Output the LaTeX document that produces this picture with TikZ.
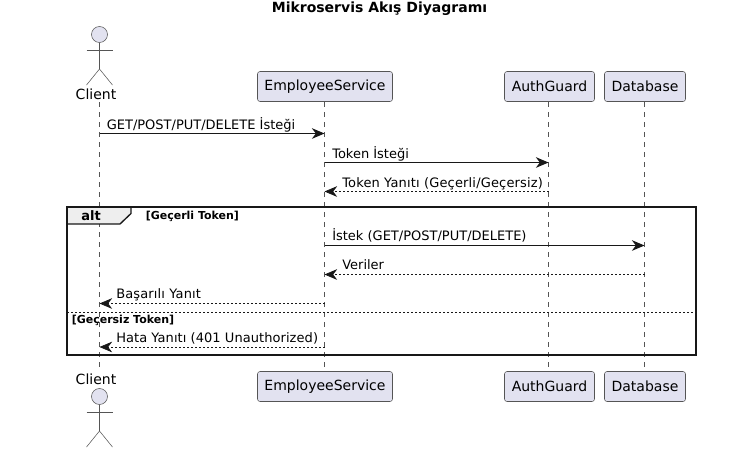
\documentclass[tikz,border=0pt]{standalone}
\usepackage{fontspec}
\setmainfont{DejaVu Sans}
\usetikzlibrary{arrows.meta}
\definecolor{partfill}{HTML}{E2E2F0}
\definecolor{partline}{HTML}{181818}
\definecolor{thinline}{HTML}{555555}
\definecolor{tabfill}{HTML}{EEEEEE}
\begin{document}
\begin{tikzpicture}[x=0.75pt,y=-0.75pt,
    part/.style = {draw=thinline, fill=partfill, line width=0.4pt, rounded corners=1.9pt, minimum height=22.5pt, inner xsep=0pt, font=\fontsize{10.5}{12}\selectfont},
    head/.style = {draw=thinline, fill=partfill, line width=0.4pt, circle, minimum size=12pt, inner sep=0pt},
    limb/.style = {draw=thinline, line width=0.4pt},
    life/.style = {draw=thinline, line width=0.4pt, dash pattern=on 3.75pt off 3.75pt},
    msg/.style = {draw=partline, line width=0.75pt, -{Stealth[length=9.5pt,width=8pt,inset=3pt]}},
    reply/.style = {msg, line width=0.5pt, dash pattern=on 1.5pt off 1.5pt},
    msgtext/.style = {anchor=base west, inner sep=0pt, font=\fontsize{9.75}{12}\selectfont},
    widetext/.style = {msgtext, font=\fontsize{9.75}{12}\selectfont\addfontfeature{LetterSpace=#1}},
    guard/.style = {anchor=base west, inner sep=0pt, font=\fontsize{8.25}{10}\selectfont\bfseries}]
    \useasboundingbox (0,0) rectangle (742,455);

    \node[anchor=base, inner sep=0pt, font=\fontsize{10.5}{12}\selectfont\bfseries] (title) at (379.5,12) {Mikroservis Akış Diyagramı};

    % top row
    \node[head] (clienthead) at (99.5,34.5) {};
    \coordinate (clientneck) at (99.5,69);
    \coordinate (clientarml) at (86.5,50.5);
    \coordinate (clientarmr) at (112.5,50.5);
    \coordinate (clientlegl) at (86.5,85);
    \coordinate (clientlegr) at (112.5,85);
    \node[anchor=base, inner sep=0pt, font=\fontsize{10.5}{12}\selectfont] (clienttop) at (96,99) {Client};
    \node[part, minimum width=101.25pt] (servicetop) at (325,86.5) {EmployeeService};
    \node[part, minimum width=67.5pt] (guardtop) at (549.5,86.5) {AuthGuard};
    \node[part, minimum width=60.75pt] (dbtop) at (645,86.5) {Database};

    % bottom row
    \node[anchor=base, inner sep=0pt, font=\fontsize{10.5}{12}\selectfont] (clientbot) at (96,384) {Client};
    \node[head] (clientheadb) at (99.5,396.5) {};
    \coordinate (clientneckb) at (99.5,431);
    \coordinate (clientarmlb) at (86.5,412.5);
    \coordinate (clientarmrb) at (112.5,412.5);
    \coordinate (clientleglb) at (86.5,447);
    \coordinate (clientlegrb) at (112.5,447);
    \node[part, minimum width=101.25pt] (servicebot) at (325,386.5) {EmployeeService};
    \node[part, minimum width=67.5pt] (guardbot) at (549.5,386.5) {AuthGuard};
    \node[part, minimum width=60.75pt] (dbbot) at (645,386.5) {Database};

    \draw[limb] (clienthead) -- (clientneck);
    \draw[limb] (clientarml) -- (clientarmr);
    \draw[limb] (clientlegl) -- (clientneck) -- (clientlegr);
    \draw[limb] (clientheadb) -- (clientneckb);
    \draw[limb] (clientarmlb) -- (clientarmrb);
    \draw[limb] (clientleglb) -- (clientneckb) -- (clientlegrb);

    % lifelines
    \coordinate (clientup) at (99.5,102);
    \coordinate (clientdown) at (99.5,369);
    \coordinate (serviceup) at (324.5,102);
    \coordinate (servicedown) at (324.5,371);
    \coordinate (guardup) at (548.5,102);
    \coordinate (guarddown) at (548.5,371);
    \coordinate (dbup) at (644.5,102);
    \coordinate (dbdown) at (644.5,371);
    \draw[life] (clientup) -- (clientdown);
    \draw[life] (serviceup) -- (servicedown);
    \draw[life] (guardup) -- (guarddown);
    \draw[life] (dbup) -- (dbdown);

    % alt frame
    \coordinate (framea) at (67,207);
    \coordinate (frameb) at (695.5,355);
    \coordinate (sepl) at (67,312.5);
    \coordinate (sepr) at (695.5,312.5);
    \draw[fill=tabfill, draw=partline, line width=1pt] (framea) -- (131,207) -- (131,213.5) -- (120,224) -- (67,224) -- cycle;
    \draw[draw=partline, line width=1.5pt] (framea) rectangle (frameb);
    \draw[draw=partline, line width=0.5pt, dash pattern=on 1.5pt off 1.5pt] (sepl) -- (sepr);
    \node[anchor=base west, inner sep=0pt, font=\fontsize{9.75}{12}\selectfont\bfseries] (alttag) at (81,220) {alt};
    \node[guard] (guardok) at (145.5,219) {[Geçerli Token]};
    \node[guard] (guardbad) at (71.5,323) {[Geçersiz Token]};

    % messages
    \coordinate (m1a) at (99.5,133.5);
    \coordinate (m1b) at (324.5,133.5);
    \coordinate (m2a) at (324.5,162.5);
    \coordinate (m2b) at (548.5,162.5);
    \coordinate (m3a) at (548.5,191.5);
    \coordinate (m3b) at (324.5,191.5);
    \coordinate (m4a) at (324.5,245.5);
    \coordinate (m4b) at (644.5,245.5);
    \coordinate (m5a) at (644.5,274.5);
    \coordinate (m5b) at (324.5,274.5);
    \coordinate (m6a) at (324.5,303.5);
    \coordinate (m6b) at (99.5,303.5);
    \coordinate (m7a) at (324.5,347);
    \coordinate (m7b) at (99.5,347);

    \draw[msg] (m1a) -- (m1b);
    \draw[msg] (m2a) -- (m2b);
    \draw[reply] (m3a) -- (m3b);
    \draw[msg] (m4a) -- (m4b);
    \draw[reply] (m5a) -- (m5b);
    \draw[reply] (m6a) -- (m6b);
    \draw[reply] (m7a) -- (m7b);

    \node[msgtext] (t1) at (106.5,129) {GET/POST/PUT/DELETE İsteği};
    \node[msgtext] (t2) at (332,158) {Token İsteği};
    \node[widetext=1.3] (t3) at (342,187) {Token Yanıtı (Geçerli/Geçersiz)};
    \node[msgtext] (t4) at (332,240) {İstek (GET/POST/PUT/DELETE)};
    \node[msgtext] (t5) at (342,269) {Veriler};
    \node[widetext=1.1] (t6) at (116,298) {Başarılı Yanıt};
    \node[widetext=0.5] (t7) at (116,342) {Hata Yanıtı (401 Unauthorized)};
\end{tikzpicture}
\end{document}
